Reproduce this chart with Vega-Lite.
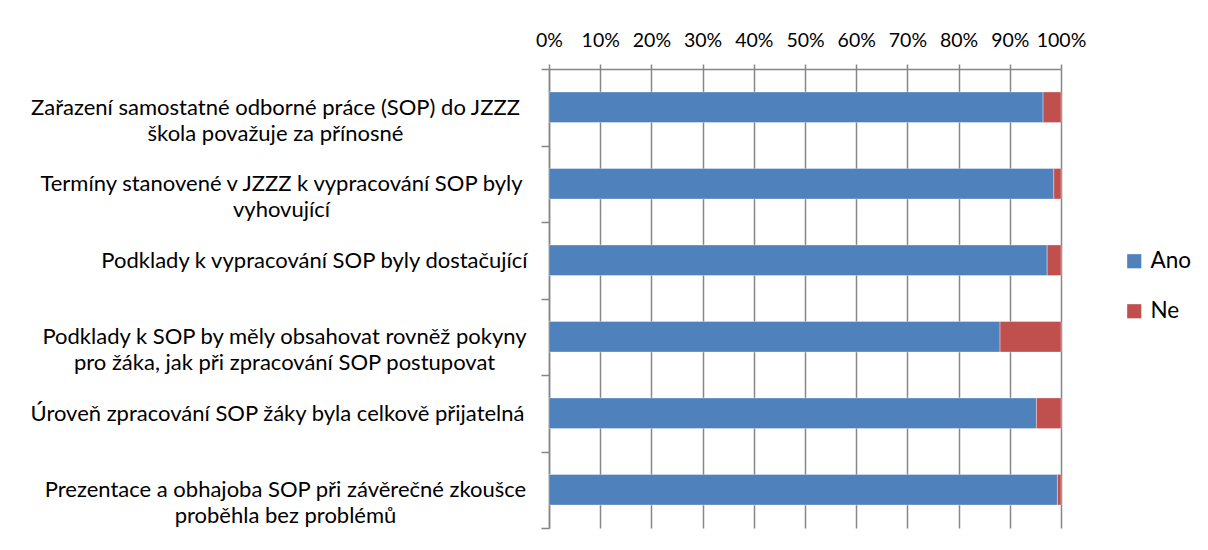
{
  "$schema": "https://vega.github.io/schema/vega-lite/v6.json",
  "width": 512,
  "height": 459,
  "autosize": {"type": "none"},
  "padding": {"left": 549, "top": 69, "right": 147, "bottom": 22},
  "background": "white",
  "config": {
    "font": "Lato",
    "view": {"stroke": null},
    "axis": {"labelFont": "Lato", "labelColor": "#000000"}
  },
  "data": {
    "values": [
      {"otazka": "Zařazení samostatné odborné práce (SOP) do JZZZ|škola považuje za přínosné", "odpoved": "Ano", "poradi": 1, "podil": 96.5},
      {"otazka": "Zařazení samostatné odborné práce (SOP) do JZZZ|škola považuje za přínosné", "odpoved": "Ne", "poradi": 2, "podil": 3.5},
      {"otazka": "Termíny stanovené v JZZZ k vypracování SOP byly|vyhovující", "odpoved": "Ano", "poradi": 1, "podil": 98.6},
      {"otazka": "Termíny stanovené v JZZZ k vypracování SOP byly|vyhovující", "odpoved": "Ne", "poradi": 2, "podil": 1.4},
      {"otazka": "Podklady k vypracování SOP byly dostačující", "odpoved": "Ano", "poradi": 1, "podil": 97.3},
      {"otazka": "Podklady k vypracování SOP byly dostačující", "odpoved": "Ne", "poradi": 2, "podil": 2.7},
      {"otazka": "Podklady k SOP by měly obsahovat rovněž pokyny|pro žáka, jak při zpracování SOP postupovat", "odpoved": "Ano", "poradi": 1, "podil": 88.1},
      {"otazka": "Podklady k SOP by měly obsahovat rovněž pokyny|pro žáka, jak při zpracování SOP postupovat", "odpoved": "Ne", "poradi": 2, "podil": 11.9},
      {"otazka": "Úroveň zpracování SOP žáky byla celkově přijatelná", "odpoved": "Ano", "poradi": 1, "podil": 95.2},
      {"otazka": "Úroveň zpracování SOP žáky byla celkově přijatelná", "odpoved": "Ne", "poradi": 2, "podil": 4.8},
      {"otazka": "Prezentace a obhajoba SOP při závěrečné zkoušce|proběhla bez problémů", "odpoved": "Ano", "poradi": 1, "podil": 99.3},
      {"otazka": "Prezentace a obhajoba SOP při závěrečné zkoušce|proběhla bez problémů", "odpoved": "Ne", "poradi": 2, "podil": 0.7}
    ]
  },
  "mark": {"type": "bar", "height": {"band": 0.4}, "stroke": "#ffffff", "strokeOpacity": 0.5, "strokeWidth": 0.7},
  "encoding": {
    "y": {
      "field": "otazka",
      "type": "nominal",
      "sort": null,
      "scale": {"paddingInner": 0, "paddingOuter": 0},
      "axis": {
        "title": null,
        "tickBand": "extent",
        "tickSize": 8,
        "tickColor": "#868686",
        "tickWidth": 1.5,
        "domainColor": "#868686",
        "domainWidth": 1.5,
        "labelAlign": "center",
        "labelPadding": {
          "condition": [
            {"test": "datum.value === 'Zařazení samostatné odborné práce (SOP) do JZZZ|škola považuje za přínosné'", "value": 266},
            {"test": "datum.value === 'Termíny stanovené v JZZZ k vypracování SOP byly|vyhovující'", "value": 260},
            {"test": "datum.value === 'Podklady k vypracování SOP byly dostačující'", "value": 227},
            {"test": "datum.value === 'Úroveň zpracování SOP žáky byla celkově přijatelná'", "value": 264},
            {"test": "datum.value === 'Prezentace a obhajoba SOP při závěrečné zkoušce|proběhla bez problémů'", "value": 256}
          ],
          "value": 257
        },
        "labelFontSize": 22,
        "labelLineHeight": 26,
        "labelLimit": 0,
        "labelExpr": "split(datum.label, '|')"
      }
    },
    "x": {
      "field": "podil",
      "type": "quantitative",
      "stack": "normalize",
      "scale": {"domain": [0, 1]},
      "axis": {
        "orient": "top",
        "title": null,
        "format": ".0%",
        "values": [0, 0.1, 0.2, 0.3, 0.4, 0.5, 0.6, 0.7, 0.8, 0.9, 1],
        "labelOverlap": false,
        "labelFlush": false,
        "labelBound": false,
        "grid": true,
        "gridColor": "#868686",
        "gridWidth": 1.5,
        "tickColor": "#868686",
        "tickWidth": 1.5,
        "tickSize": 5,
        "domainColor": "#868686",
        "domainWidth": 1.5,
        "labelFontSize": 19.5,
        "labelPadding": 14
      }
    },
    "color": {
      "field": "odpoved",
      "type": "nominal",
      "scale": {"domain": ["Ano", "Ne"], "range": ["#4F81BD", "#C0504D"]},
      "legend": {
        "title": null,
        "orient": "none",
        "legendX": 574,
        "legendY": 181,
        "symbolType": "square",
        "symbolSize": 200,
        "symbolStrokeWidth": 0,
        "labelFontSize": 22.5,
        "labelFont": "Lato",
        "rowPadding": 27,
        "labelOffset": 5
      }
    },
    "order": {"field": "poradi", "type": "quantitative"}
  }
}
